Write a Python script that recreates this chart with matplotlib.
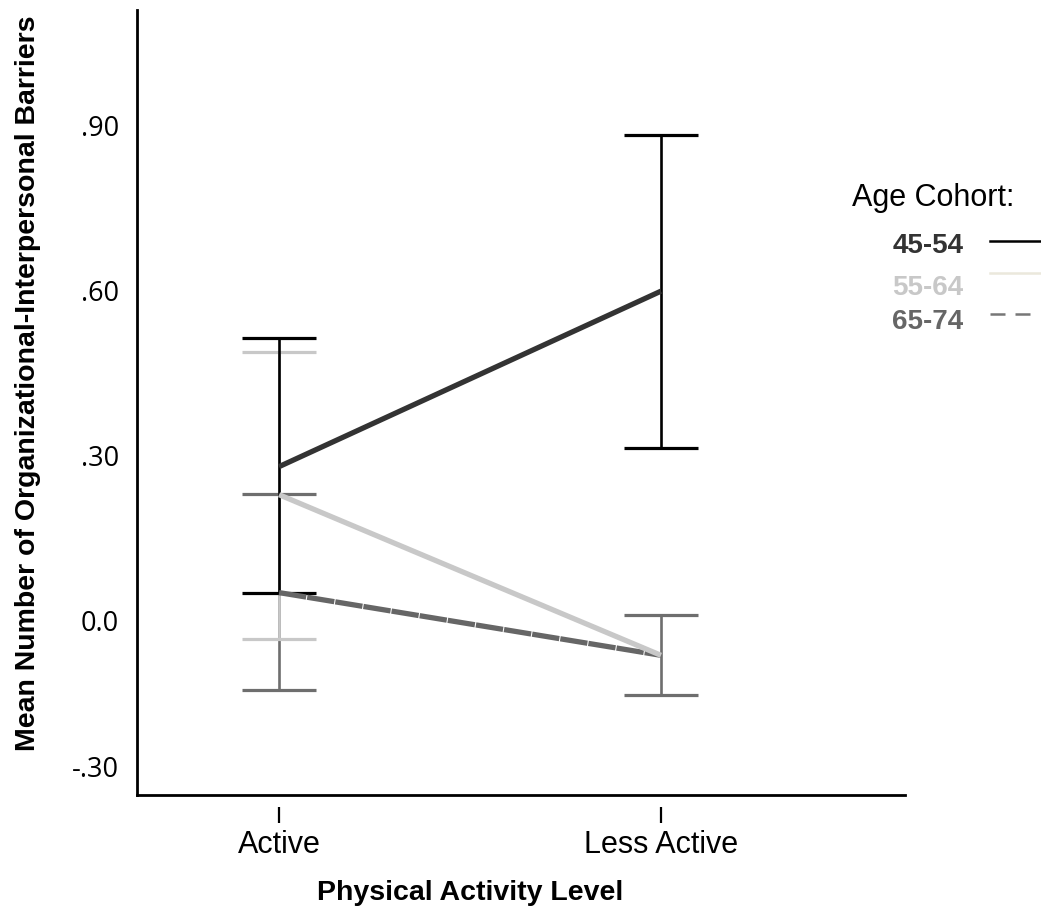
import matplotlib
matplotlib.use('Agg')
import matplotlib.pyplot as plt
from matplotlib.path import Path
from matplotlib.lines import Line2D
from matplotlib.transforms import ScaledTranslation

# data
levels = ['Active', 'Less Active']
cohorts = ['45-54', '55-64', '65-74']
means = {
    '45-54': [0.279, 0.598],
    '55-64': [0.228, -0.064],
    '65-74': [0.050, -0.064],
}
ci_low = {
    '45-54': [0.049, 0.313],
    '55-64': [-0.035, None],
    '65-74': [-0.127, -0.136],
}
ci_high = {
    '45-54': [0.513, 0.882],
    '55-64': [0.487, None],
    '65-74': [0.229, 0.009],
}
yticks = [-0.30, 0.0, 0.30, 0.60, 0.90]
ytick_labels = ['-.30', '0.0', '.30', '.60', '.90']

line_colors = {'45-54': '#333333', '55-64': '#c8c8c8', '65-74': '#666666'}
bar_colors = {'45-54': '#000000', '55-64': '#c8c8c8', '65-74': '#6e6e6e'}
line_styles = {'45-54': '-', '55-64': '-', '65-74': (0, (5.2, 0.2))}
legend_colors = {'45-54': '#000000', '55-64': '#ebe8dc', '65-74': '#777777'}
legend_styles = {'45-54': '-', '55-64': '-', '65-74': (0, (6, 4))}
text_colors = {'45-54': '#333333', '55-64': '#c8c8c8', '65-74': '#666666'}

fig = plt.figure(figsize=(10.41, 9.13), dpi=100)
ax = fig.add_axes([0.1316, 0.1292, 0.7378, 0.8598])

x = list(range(len(levels)))

# error bars first, then mean lines
for c in ['65-74', '55-64', '45-54']:
    for i in x:
        lo, hi = ci_low[c][i], ci_high[c][i]
        if lo is None:
            continue
        ax.errorbar([i], [(lo + hi) / 2], yerr=[[(hi - lo) / 2], [(hi - lo) / 2]],
                    fmt='none', ecolor=bar_colors[c], elinewidth=1.9,
                    capsize=26.5, capthick=2.3, zorder=2)

for c in ['65-74', '55-64', '45-54']:
    ax.plot(x, means[c], color=line_colors[c], lw=3.8,
            linestyle=line_styles[c], solid_capstyle='butt', zorder=3)

ax.set_xlim(-0.372, 1.639)
ax.set_ylim(-0.318, 1.109)
ax.set_yticks(yticks)
ax.set_yticklabels(ytick_labels, fontsize=19.5, family=['Open Sans', 'DejaVu Sans'])
ax.tick_params(axis='y', length=0, pad=13)

ax.set_xticks(x)
ax.set_xticklabels(levels, fontsize=22, family='Liberation Sans')
ax.tick_params(axis='x', pad=25, length=0)
# tick marks detached from the axis line
gap_tick = Path([(0, -0.43), (0, -1.0)], [Path.MOVETO, Path.LINETO])
for t in ax.xaxis.get_major_ticks():
    t.tick1line.set_marker(gap_tick)
    t.tick1line.set_markersize(40)
    t.tick1line.set_markeredgewidth(1.6)
    t.tick1line.set_markeredgecolor('black')

# lowest label sits a bit higher so it stays above the axis line
low = ax.yaxis.get_major_ticks()[0].label1
low.set_transform(low.get_transform() + ScaledTranslation(0, 0.19, fig.dpi_scale_trans))

for s in ['top', 'right']:
    ax.spines[s].set_visible(False)
for s in ['left', 'bottom']:
    ax.spines[s].set_linewidth(2)
    ax.spines[s].set_color('black')

fig.text(0.027, 0.58, 'Mean Number of Organizational-Interpersonal Barriers',
         rotation=90, ha='center', va='center', fontsize=20.5, fontweight='bold',
         family='Liberation Sans')
fig.text(0.452, 0.022, 'Physical Activity Level', ha='center', va='center',
         fontsize=20.5, fontweight='bold', family='Liberation Sans')

# legend
fig.text(0.818, 0.783, 'Age Cohort:', ha='left', va='center', fontsize=22,
         family='Liberation Sans')
text_y = [0.731, 0.685, 0.647]
key_y = [0.736, 0.701, 0.656]
for c, ty, ky in zip(cohorts, text_y, key_y):
    fig.text(0.857, ty, c, ha='left', va='center', fontsize=20, fontweight='bold',
             color=text_colors[c], family='Liberation Sans')
    fig.add_artist(Line2D([0.951, 0.999], [ky, ky], transform=fig.transFigure,
                          color=legend_colors[c], lw=1.8, linestyle=legend_styles[c]))

fig.savefig('out.png', dpi=100)
